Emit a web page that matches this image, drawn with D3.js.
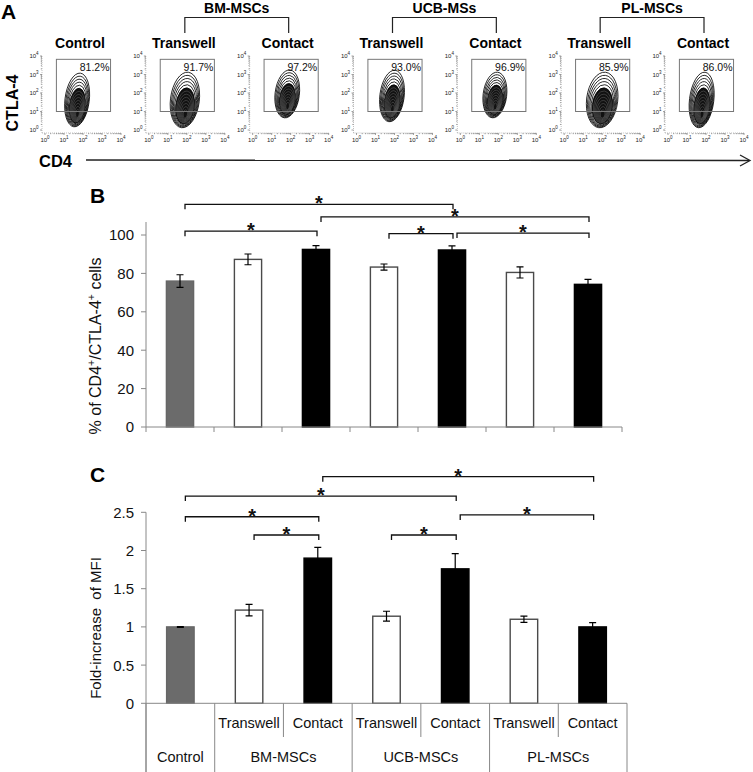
<!DOCTYPE html>
<html><head><meta charset="utf-8">
<script src="https://cdn.jsdelivr.net/npm/d3@7"></script>
<style>body{margin:0;background:#fff} svg{display:block;font-family:Arial,"Liberation Sans",Helvetica,sans-serif}</style>
</head><body><svg id="chart" width="753" height="772"></svg>
<script>
// ---------- data ----------
const categories = ["Control","BM Transwell","BM Contact","UCB Transwell","UCB Contact","PL Transwell","PL Contact"];
const culture = ["Control","Transwell","Contact","Transwell","Contact","Transwell","Contact"];
const percentValues = [76.0, 87.3, 92.5, 83.3, 92.2, 80.5, 74.3];
const percentErrors = [3.3, 2.8, 2.0, 1.6, 2.1, 2.9, 2.6];
const mfiValues = [1.0, 1.22, 1.9, 1.14, 1.76, 1.10, 1.0];
const mfiErrors = [0.005, 0.075, 0.14, 0.065, 0.2, 0.04, 0.057];
const percentTicks = [0, 20, 40, 60, 80, 100];
const mfiTicks = [0, 0.5, 1, 1.5, 2, 2.5];
// significance brackets: [from category, to category, level in data units]
const sigPercent = [[0,4,116],[2,6,109.4],[0,2,102],[3,4,100.7],[4,6,101]];
const sigMfi = [[2,6,2.966],[0,4,2.713],[0,2,2.442],[1,2,2.203],[3,4,2.203],[4,6,2.465]];
const tableGroups = ["BM-MSCs","UCB-MSCs","PL-MSCs"];
// flow cytometry panel
const flowGroups = ["BM-MSCs","UCB-MSs","PL-MSCs"];
const flowGroupFirst = [1,3,5];
const flowTitles = ["Control","Transwell","Contact","Transwell","Contact","Transwell","Contact"];
const flowPercents = ["81.2%","91.7%","97.2%","93.0%","96.9%","85.9%","86.0%"];
const flowCenterCD4 = [49, 79, 66, 74, 66, 100, 59];
const flowCenterCTLA4 = [42, 42, 89, 69, 78, 42, 42];
const flowSpreadCD4 = [0.64, 0.76, 0.64, 0.64, 0.62, 0.82, 0.64];     // decades
const flowSpreadCTLA4 = [1.46, 1.51, 1.30, 1.40, 1.24, 1.51, 1.51];  // decades
const flowDecades = [1, 10, 100, 1000, 10000];

const svg = d3.select("#chart");
const fillFor = c => c === "Control" ? "#6b6b6b" : (c === "Transwell" ? "#ffffff" : "#000000");
const strokeFor = c => c === "Control" ? "#666" : (c === "Transwell" ? "#4a4a4a" : "#000");

// ---------- panel A ----------
svg.append("text").attr("x", 1).attr("y", 19).attr("font-size", 21).attr("font-weight", "bold").text("A");
const plotOrigin = d3.scaleLinear().domain([0, 6]).range([45, 668]);
const pxDecX = 19, pxDecY = 18.5;

function sup(sel, base, exp, size) {
  sel.append("tspan").text(base);
  sel.append("tspan").attr("font-size", size * 0.75).attr("dy", -size * 0.45).text(exp);
}

flowTitles.forEach((title, i) => {
  const x0 = plotOrigin(i);
  const fx = d3.scaleLog().domain([1, 1e4]).range([x0, x0 + 4 * pxDecX]);
  const fy = d3.scaleLog().domain([1, 1e4]).range([130, 130 - 4 * pxDecY]);
  const g = svg.append("g");
  g.append("line").attr("x1", x0 - 3).attr("x2", x0 - 3).attr("y1", fy(1e4)).attr("y2", 133)
    .attr("stroke", "#999").attr("stroke-width", 0.6).attr("stroke-dasharray", "1,1");
  g.append("line").attr("x1", x0 - 3).attr("x2", fx(1e4)).attr("y1", 133).attr("y2", 133)
    .attr("stroke", "#999").attr("stroke-width", 0.6).attr("stroke-dasharray", "1,1");
  fx.ticks().forEach(v => {
    const major = flowDecades.includes(v);
    g.append("line").attr("x1", fx(v)).attr("x2", fx(v)).attr("y1", 133).attr("y2", major ? 135 : 134.2)
      .attr("stroke", "#666").attr("stroke-width", 0.6);
  });
  fy.ticks().forEach(v => {
    const major = flowDecades.includes(v);
    g.append("line").attr("x1", x0 - 3).attr("x2", major ? x0 - 5 : x0 - 4.2).attr("y1", fy(v)).attr("y2", fy(v))
      .attr("stroke", "#666").attr("stroke-width", 0.6);
  });
  flowDecades.forEach((v, k) => {
    const tx = g.append("text").attr("x", fx(v)).attr("y", 141.5).attr("text-anchor", "middle")
      .attr("font-size", 6).attr("fill", "#222");
    sup(tx, "10", String(k), 6);
    const ty = g.append("text").attr("x", x0 - 11).attr("y", fy(v) + 2).attr("text-anchor", "middle")
      .attr("font-size", 6).attr("fill", "#222");
    sup(ty, "10", String(k), 6);
  });
  // contour population
  const cx = fx(flowCenterCD4[i]), cy = fy(flowCenterCTLA4[i]);
  const RX = flowSpreadCD4[i] * pxDecX, RY = flowSpreadCTLA4[i] * pxDecY;
  const N = 13;
  d3.range(N).forEach(k => {
    const t = k / (N - 1);
    const s = 1 - 0.85 * t;
    const ex = cx + t * 0.03 * RX, ey = cy + t * 0.5 * RY;
    g.append("ellipse")
      .attr("transform", `translate(${ex},${ey}) rotate(7)`)
      .attr("rx", RX * s).attr("ry", RY * s)
      .attr("fill", k === 5 ? "#111" : "none")
      .attr("stroke", k > 5 ? "#777" : "#000")
      .attr("stroke-width", k > 5 ? 0.4 : 0.8);
  });
  // gate
  g.append("rect").attr("x", fx(Math.pow(10, 0.6))).attr("y", fy(Math.pow(10, 3.82)))
    .attr("width", fx(Math.pow(10, 3.45)) - fx(Math.pow(10, 0.6)))
    .attr("height", fy(10) - fy(Math.pow(10, 3.82)))
    .attr("fill", "none").attr("stroke", "#777").attr("stroke-width", 1);
  g.append("text").attr("x", fx(Math.pow(10, 3.45)) - 1).attr("y", fy(Math.pow(10, 3.82)) + 12)
    .attr("text-anchor", "end").attr("font-size", 10.5).attr("fill", "#111").text(flowPercents[i]);
  svg.append("text").attr("x", x0 + 35).attr("y", 48).attr("text-anchor", "middle")
    .attr("font-size", 14).attr("font-weight", "bold").text(title);
});
flowGroups.forEach((name, j) => {
  const xa = plotOrigin(flowGroupFirst[j]) + 36, xb = plotOrigin(flowGroupFirst[j] + 1) + 36;
  svg.append("path").attr("d", `M${xa},33V17.5H${xb}V33`).attr("fill", "none").attr("stroke", "#222").attr("stroke-width", 1.2);
  svg.append("text").attr("x", (xa + xb) / 2).attr("y", 13).attr("text-anchor", "middle")
    .attr("font-size", 14).attr("font-weight", "bold").text(name);
});
svg.append("text").attr("transform", "translate(18,103) rotate(-90)").attr("text-anchor", "middle")
  .attr("font-size", 16).attr("font-weight", "bold").text("CTLA-4");
svg.append("text").attr("x", 39).attr("y", 167).attr("font-size", 16.5).attr("font-weight", "bold").text("CD4");
svg.append("line").attr("x1", 86).attr("x2", 749).attr("y1", 160).attr("y2", 160.5)
  .attr("stroke", "#222").attr("stroke-width", 1.5);
svg.append("path").attr("d", "M740,155L750,160.5L740,166").attr("fill", "none").attr("stroke", "#222").attr("stroke-width", 1.3);

// ---------- bar panel helper ----------
function barPanel(opts) {
  const { y, x, values, errors, sig, ticks, fmt } = opts;
  const g = svg.append("g");
  g.append("line").attr("x1", x.range()[0]).attr("x2", x.range()[0])
    .attr("y1", opts.axisTop).attr("y2", opts.axisBottom).attr("stroke", "#888").attr("stroke-width", 1);
  ticks.forEach(v => {
    g.append("line").attr("x1", x.range()[0] - 5).attr("x2", x.range()[0]).attr("y1", y(v)).attr("y2", y(v))
      .attr("stroke", "#888");
    g.append("text").attr("x", 134).attr("y", y(v)).attr("dy", "0.36em").attr("text-anchor", "end")
      .attr("font-size", 15).attr("fill", "#111").text(fmt(v));
  });
  categories.forEach((c, i) => {
    g.append("rect").attr("x", x(c)).attr("width", x.bandwidth())
      .attr("y", y(values[i])).attr("height", y(0) - y(values[i]))
      .attr("fill", fillFor(culture[i])).attr("stroke", strokeFor(culture[i])).attr("stroke-width", 1.4);
    const cxm = x(c) + x.bandwidth() / 2;
    const e = errors[i];
    g.append("path")
      .attr("d", `M${cxm - 3.5},${y(values[i] + e)}H${cxm + 3.5}M${cxm},${y(values[i] + e)}V${y(values[i] - e)}M${cxm - 3.5},${y(values[i] - e)}H${cxm + 3.5}`)
      .attr("stroke", "#000").attr("stroke-width", 1.2).attr("fill", "none");
  });
  sig.forEach(([a, b, lvl]) => {
    const xa = x(categories[a]) + x.bandwidth() / 2 + 5;
    const xb = x(categories[b]) + x.bandwidth() / 2 + 1;
    const yl = y(lvl);
    g.append("path").attr("d", `M${xa},${yl + 5}V${yl}H${xb}V${yl + 5}`)
      .attr("fill", "none").attr("stroke", "#111").attr("stroke-width", 1.3);
    g.append("text").attr("x", (xa + xb) / 2).attr("y", yl + 6).attr("text-anchor", "middle")
      .attr("font-size", 20).attr("font-weight", "bold").attr("fill", "#111").text("*");
  });
  return g;
}

// ---------- panel B ----------
svg.append("text").attr("x", 90).attr("y", 203).attr("font-size", 21).attr("font-weight", "bold").text("B");
const xB = d3.scaleBand().domain(categories).range([146, 622]).paddingInner(0.6).paddingOuter(0.3);
const yB = d3.scaleLinear().domain([0, 100]).range([427, 235]);
const gB = barPanel({ y: yB, x: xB, values: percentValues, errors: percentErrors, sig: sigPercent,
  ticks: percentTicks, fmt: d => d, axisTop: 222, axisBottom: 427 });
gB.append("line").attr("x1", 146).attr("x2", 622).attr("y1", yB(0)).attr("y2", yB(0)).attr("stroke", "#888");
d3.range(categories.length + 1).forEach(k => {
  const xx = 146 + k * xB.step();
  gB.append("line").attr("x1", xx).attr("x2", xx).attr("y1", yB(0)).attr("y2", yB(0) + 5).attr("stroke", "#888");
});
const tB = svg.append("text").attr("transform", "translate(101,346) rotate(-90)").attr("text-anchor", "middle")
  .attr("font-size", 16).attr("fill", "#111");
tB.append("tspan").text("% of CD4");
tB.append("tspan").attr("font-size", 10.5).attr("dy", -6).text("+");
tB.append("tspan").attr("dy", 6).text("/CTLA-4");
tB.append("tspan").attr("font-size", 10.5).attr("dy", -6).text("+");
tB.append("tspan").attr("dy", 6).text(" cells");

// ---------- panel C ----------
svg.append("text").attr("x", 90).attr("y", 482).attr("font-size", 21).attr("font-weight", "bold").text("C");
const xC = d3.scaleBand().domain(categories).range([146, 627]).paddingInner(0.6).paddingOuter(0.3);
const yC = d3.scaleLinear().domain([0, 2.5]).range([703.3, 512.3]);
const gC = barPanel({ y: yC, x: xC, values: mfiValues, errors: mfiErrors, sig: sigMfi,
  ticks: mfiTicks, fmt: d => d, axisTop: 512.3, axisBottom: 772 });
gC.append("line").attr("x1", 146).attr("x2", 627).attr("y1", yC(0)).attr("y2", yC(0)).attr("stroke", "#888");
d3.range(categories.length + 1).forEach(k => {
  const xx = 146 + k * xC.step();
  const full = (k === 0 || k % 2 === 1);
  gC.append("line").attr("x1", xx).attr("x2", xx).attr("y1", yC(0)).attr("y2", full ? 772 : 737)
    .attr("stroke", "#888");
});
categories.forEach((c, i) => {
  if (i === 0) return;
  gC.append("text").attr("x", xC(c) + xC.bandwidth() / 2).attr("y", 728).attr("text-anchor", "middle")
    .attr("font-size", 14.5).attr("fill", "#111").text(culture[i]);
});
gC.append("text").attr("x", xC(categories[0]) + xC.bandwidth() / 2).attr("y", 762).attr("text-anchor", "middle")
  .attr("font-size", 14.5).attr("fill", "#111").text("Control");
tableGroups.forEach((name, j) => {
  const a = categories[1 + 2 * j], b = categories[2 + 2 * j];
  const mid = (xC(a) + xC(b) + xC.bandwidth()) / 2;
  gC.append("text").attr("x", mid).attr("y", 762).attr("text-anchor", "middle")
    .attr("font-size", 14.5).attr("fill", "#111").text(name);
});
svg.append("text").attr("transform", "translate(101,628) rotate(-90)").attr("text-anchor", "middle")
  .attr("font-size", 15).attr("fill", "#111").style("white-space", "pre").text("Fold-increase  of MFI");
</script></body></html>
